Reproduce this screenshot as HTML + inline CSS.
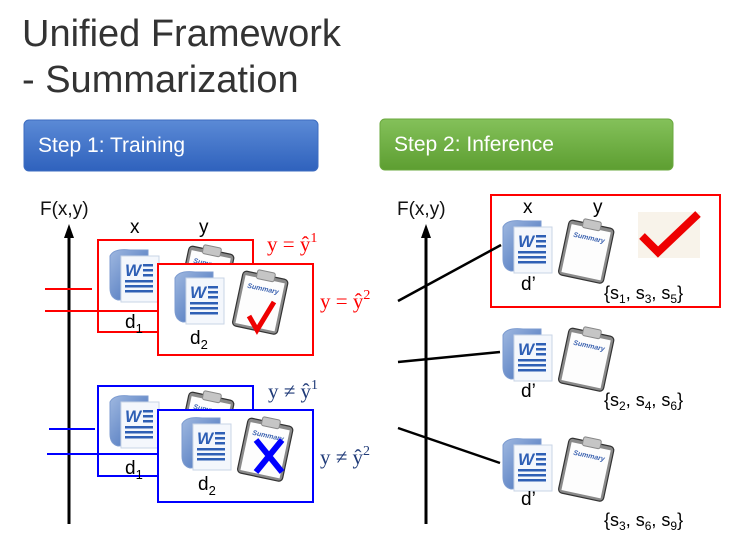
<!DOCTYPE html>
<html><head><meta charset="utf-8"><style>
html,body{margin:0;padding:0;background:#fff;}
svg{display:block;font-family:"Liberation Sans",sans-serif;}
</style></head><body>
<svg width="733" height="537" viewBox="0 0 733 537" xmlns="http://www.w3.org/2000/svg">
<defs>
<linearGradient id="gb" x1="0" y1="0" x2="0" y2="1"><stop offset="0" stop-color="#5b8ad6"/><stop offset="1" stop-color="#2f62bd"/></linearGradient>
<linearGradient id="gg" x1="0" y1="0" x2="0" y2="1"><stop offset="0" stop-color="#84c15a"/><stop offset="1" stop-color="#5d9e31"/></linearGradient>
<linearGradient id="dk" x1="0" y1="0" x2="1" y2="1"><stop offset="0" stop-color="#9fb8e0"/><stop offset="1" stop-color="#3f6bb8"/></linearGradient>
<g id="doc">
  <path d="M2 8 Q6 0 22 2 L40 2 L40 50 L10 52 Q2 50 2 40 Z" fill="url(#dk)" stroke="#7c9bd0"/>
  <rect x="13" y="8" width="38" height="46" fill="#f4f7fc" stroke="#c9d4e6"/>
  <text x="17" y="28" font-size="17" font-weight="bold" font-style="italic" fill="#2e5fb5">W</text>
  <rect x="35" y="16" width="10" height="2.5" fill="#2e5fb5"/><rect x="35" y="21" width="10" height="2.5" fill="#2e5fb5"/><rect x="35" y="26" width="10" height="2.5" fill="#2e5fb5"/>
  <rect x="17" y="32" width="28" height="2.5" fill="#2e5fb5"/><rect x="17" y="37" width="28" height="2.5" fill="#2e5fb5"/><rect x="17" y="42" width="28" height="2.5" fill="#2e5fb5"/>
</g>
<g id="clip">
  <g transform="rotate(12 30 30)">
    <rect x="6" y="6" width="46" height="56" rx="4" fill="#8a8a8a" stroke="#333" stroke-width="1.2"/>
    <rect x="9" y="10" width="40" height="49" fill="#fdfdfd"/>
    <rect x="20" y="2" width="18" height="9" rx="2" fill="#c5c5c5" stroke="#888"/>
    <text x="13" y="22" font-size="7" font-style="italic" font-weight="bold" fill="#3b62b0">Summary</text>
  </g>
</g>
</defs>

<text x="22" y="46" font-size="38" fill="#333">Unified Framework</text>
<text x="22" y="92" font-size="38" fill="#333">- Summarization</text>

<rect x="24" y="120" width="294" height="51" rx="5" fill="url(#gb)" stroke="#3d6cc0"/>
<text x="38" y="152" font-size="21" fill="#fff">Step 1: Training</text>
<rect x="380" y="119" width="293" height="51" rx="5" fill="url(#gg)" stroke="#6aa83e"/>
<text x="394" y="151" font-size="21" fill="#fff">Step 2: Inference</text>

<!-- left -->
<text x="40" y="215" font-size="19" fill="#111">F(x,y)</text>
<line x1="69" y1="236" x2="69" y2="524" stroke="#000" stroke-width="3"/>
<polygon points="69,224 64,238 74,238" fill="#000"/>
<text x="130" y="233" font-size="19">x</text>
<text x="199" y="233" font-size="19">y</text>

<use href="#doc" x="108" y="248"/>
<use href="#clip" x="178" y="244"/>
<rect x="98" y="240" width="155" height="92" fill="none" stroke="#f00" stroke-width="2"/>
<rect x="158" y="264" width="155" height="91" fill="#fff" stroke="#f00" stroke-width="2"/>
<use href="#doc" x="173" y="270"/>
<use href="#clip" x="232" y="269"/>
<path d="M249 316 L257 330 L274 302" fill="none" stroke="#e00" stroke-width="5"/>
<text x="125" y="328" font-size="19">d<tspan font-size="13" dy="5">1</tspan></text>
<text x="190" y="344" font-size="19">d<tspan font-size="13" dy="5">2</tspan></text>
<line x1="45" y1="289" x2="92" y2="289" stroke="#f00" stroke-width="2"/>
<line x1="45" y1="311" x2="158" y2="311" stroke="#f00" stroke-width="2"/>
<text x="267" y="251" font-size="21" font-family="Liberation Serif,serif" fill="#f00">y = ŷ<tspan font-size="14" dy="-9">1</tspan></text>
<text x="320" y="308" font-size="21" font-family="Liberation Serif,serif" fill="#f00">y = ŷ<tspan font-size="14" dy="-9">2</tspan></text>

<use href="#doc" x="108" y="394"/>
<use href="#clip" x="178" y="390"/>
<rect x="98" y="386" width="155" height="90" fill="none" stroke="#00f" stroke-width="2"/>
<rect x="158" y="410" width="155" height="92" fill="#fff" stroke="#00f" stroke-width="2"/>
<use href="#doc" x="180" y="416"/>
<use href="#clip" x="237" y="416"/>
<path d="M256 440 L282 472 M282 440 L256 472" stroke="#00f" stroke-width="6"/>
<text x="125" y="474" font-size="19">d<tspan font-size="13" dy="5">1</tspan></text>
<text x="198" y="490" font-size="19">d<tspan font-size="13" dy="5">2</tspan></text>
<line x1="49" y1="429" x2="95" y2="429" stroke="#00f" stroke-width="2"/>
<line x1="47" y1="454" x2="158" y2="454" stroke="#00f" stroke-width="2"/>
<text x="268" y="398" font-size="21" font-family="Liberation Serif,serif" fill="#1f3a78">y ≠ ŷ<tspan font-size="14" dy="-9">1</tspan></text>
<text x="320" y="464" font-size="21" font-family="Liberation Serif,serif" fill="#1f3a78">y ≠ ŷ<tspan font-size="14" dy="-9">2</tspan></text>

<!-- right -->
<text x="397" y="215" font-size="19" fill="#111">F(x,y)</text>
<line x1="426" y1="236" x2="426" y2="524" stroke="#000" stroke-width="3"/>
<polygon points="426,224 421,238 431,238" fill="#000"/>
<rect x="491" y="195" width="229" height="112" fill="none" stroke="#f00" stroke-width="2"/>
<text x="523" y="213" font-size="19">x</text>
<text x="593" y="213" font-size="19">y</text>
<rect x="638" y="212" width="62" height="46" fill="#f8f3ea"/>
<path d="M642 236 L658 252 L698 214" fill="none" stroke="#e00" stroke-width="8"/>

<line x1="398" y1="301" x2="501" y2="245" stroke="#000" stroke-width="2.5"/>
<line x1="398" y1="362" x2="500" y2="352" stroke="#000" stroke-width="2.5"/>
<line x1="398" y1="428" x2="500" y2="463" stroke="#000" stroke-width="2.5"/>

<use href="#doc" x="501" y="219"/>
<use href="#clip" x="558" y="218"/>
<text x="521" y="290" font-size="19">d’</text>
<text x="604" y="299" font-size="18">{s<tspan font-size="12" dy="4">1</tspan><tspan dy="-4">, s</tspan><tspan font-size="12" dy="4">3</tspan><tspan dy="-4">, s</tspan><tspan font-size="12" dy="4">5</tspan><tspan dy="-4">}</tspan></text>

<use href="#doc" x="501" y="327"/>
<use href="#clip" x="558" y="326"/>
<text x="521" y="397" font-size="19">d’</text>
<text x="604" y="406" font-size="18">{s<tspan font-size="12" dy="4">2</tspan><tspan dy="-4">, s</tspan><tspan font-size="12" dy="4">4</tspan><tspan dy="-4">, s</tspan><tspan font-size="12" dy="4">6</tspan><tspan dy="-4">}</tspan></text>

<use href="#doc" x="501" y="437"/>
<use href="#clip" x="558" y="436"/>
<text x="521" y="505" font-size="19">d’</text>
<text x="604" y="526" font-size="18">{s<tspan font-size="12" dy="4">3</tspan><tspan dy="-4">, s</tspan><tspan font-size="12" dy="4">6</tspan><tspan dy="-4">, s</tspan><tspan font-size="12" dy="4">9</tspan><tspan dy="-4">}</tspan></text>
</svg>
</body></html>
